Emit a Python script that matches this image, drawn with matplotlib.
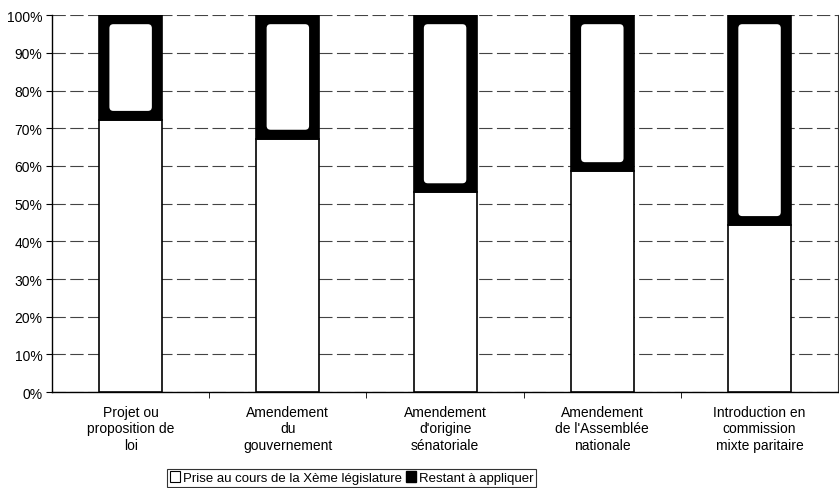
import matplotlib.pyplot as plt
import numpy as np
from matplotlib.patches import Patch, FancyBboxPatch

plt.rcParams['font.family'] = ['Liberation Sans', 'DejaVu Sans']

categories = ["Projet ou\nproposition de\nloi", "Amendement\ndu\ngouvernement",
              "Amendement\nd'origine\nsénatoriale", "Amendement\nde l'Assemblée\nnationale",
              "Introduction en\ncommission\nmixte paritaire"]
prise = [72.2, 67.2, 53.0, 58.6, 44.3]
restant = [100 - v for v in prise]
legend_labels = ["Prise au cours de la Xème législature", "Restant à appliquer"]

fig = plt.figure(figsize=(8.39, 4.89), dpi=100)
ax = fig.add_axes([0.062, 0.196, 0.937, 0.771])

x = np.arange(len(categories))
w = 0.4
ax.bar(x, prise, w, color='white', edgecolor='black', linewidth=1.2, zorder=3)
ax.bar(x, restant, w, bottom=prise, color='black', edgecolor='black', linewidth=1.2, zorder=3)

# light inner area of the dark segments (as in the printed original)
for xi, p in zip(x, prise):
    inset = 0.065
    lo = p + 2.4
    hi = 97.6
    box = FancyBboxPatch((xi - w / 2 + inset, lo), w - 2 * inset, hi - lo,
                         boxstyle="round,pad=0,rounding_size=0.025",
                         mutation_aspect=42, facecolor='white', edgecolor='none', zorder=4)
    ax.add_patch(box)

ax.set_xlim(-0.5, len(categories) - 0.5)
ax.set_ylim(0, 100)
ax.set_yticks(np.arange(0, 101, 10))
ax.set_yticklabels([f"{v}%" for v in range(0, 101, 10)], fontsize=10)
ax.yaxis.grid(True, color='#444444', linewidth=0.8, linestyle=(0, (12, 4)), zorder=0)
ax.set_axisbelow(True)

ax.set_xticks(x)
ax.set_xticklabels(categories, fontsize=10, linespacing=1.25)
ax.tick_params(axis='x', which='major', length=0, pad=9)
ax.set_xticks(np.arange(0.5, len(categories) - 0.5, 1), minor=True)
ax.tick_params(axis='x', which='minor', length=4, direction='out', color='black')
ax.tick_params(axis='y', length=4, direction='out', color='black', pad=3)

ax.spines['top'].set_visible(False)
ax.spines['right'].set_color('#333333')
ax.spines['right'].set_linewidth(0.8)
ax.spines['left'].set_linewidth(1.0)
ax.spines['bottom'].set_linewidth(1.0)

handles = [Patch(facecolor='white', edgecolor='black', linewidth=0.8),
           Patch(facecolor='black', edgecolor='black')]
leg = fig.legend(handles, legend_labels, loc='center', bbox_to_anchor=(0.419, 0.021),
                 ncol=2, fontsize=9.5, frameon=True, fancybox=False, edgecolor='black',
                 handlelength=0.8, handleheight=0.8, handletextpad=0.2, columnspacing=0.3,
                 borderpad=0.2, borderaxespad=0)
leg.get_frame().set_linewidth(0.8)

fig.savefig('out.png', dpi=100)
